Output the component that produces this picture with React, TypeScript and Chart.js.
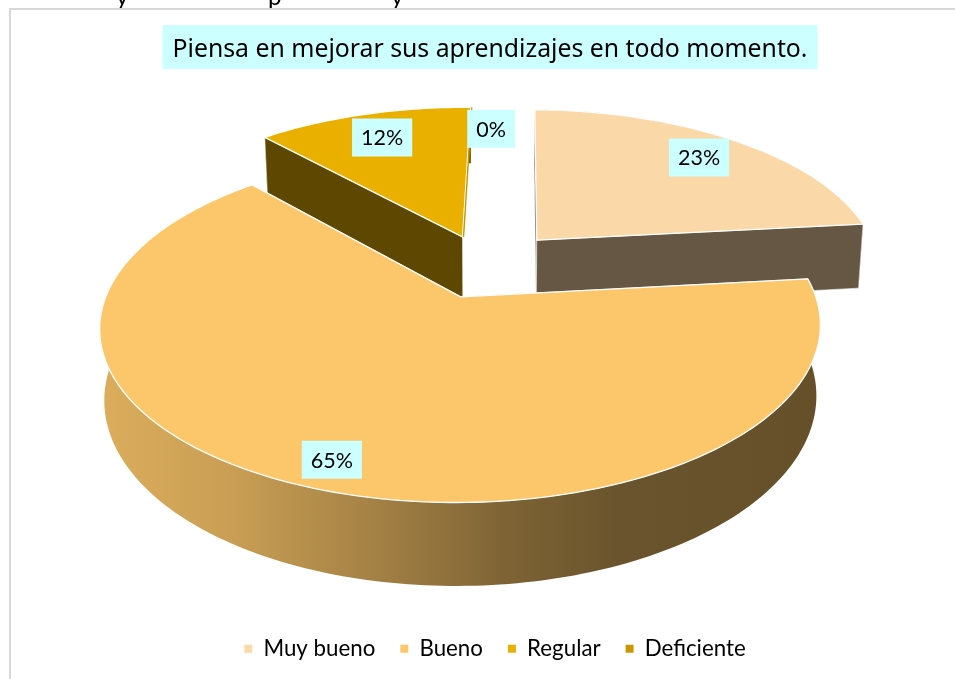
import React, { useEffect, useRef } from "react";
import { Chart, registerables } from "chart.js";

Chart.register(...registerables);

const categories = ["Muy bueno", "Bueno", "Regular", "Deficiente"];
const shares = [23, 65, 12, 0];
const sliceColors = ["#fbd8a8", "#fcc76a", "#e9b000", "#c99700"];
const explode = [45, 40, 40, 40];
const labelReach = [0.81, 0.875, 0.79, 0.8];
const labelTurn = [0, -0.6, 0, 0];
const titleText = "Piensa en mejorar sus aprendizajes en todo momento.";
const cutOffWords = [
  { text: "y", x: 116 },
  { text: "p", x: 268 },
  { text: "y", x: 391 },
];

// Perspective camera of the 3-D pie
const CAM = { X: 486, Y: 266, A: 344, B: 160, k: 0.166, D: 67, shrink: 0.988 };
const rimShade = [
  [0, 0.87],
  [0.18, 0.8],
  [0.42, 0.62],
  [0.56, 0.5],
  [0.72, 0.42],
  [1, 0.4],
];

function project(u: number, v: number) {
  const w = 1 - CAM.k * v;
  return { x: CAM.X + (CAM.A * u) / w, y: CAM.Y + (CAM.B * v) / w, w };
}
function below(p: { x: number; y: number; w: number }) {
  return { x: CAM.X + (p.x - CAM.X) * CAM.shrink, y: p.y + CAM.D / p.w };
}
function shade(hex: string, f: number) {
  const n = parseInt(hex.slice(1), 16);
  const r = Math.round(((n >> 16) & 255) * f);
  const g = Math.round(((n >> 8) & 255) * f);
  const b = Math.round((n & 255) * f);
  return `rgb(${r},${g},${b})`;
}
function trace(ctx: CanvasRenderingContext2D, pts: { x: number; y: number }[]) {
  ctx.beginPath();
  pts.forEach((p, i) => (i ? ctx.lineTo(p.x, p.y) : ctx.moveTo(p.x, p.y)));
  ctx.closePath();
}

function sliceGeometry(chart: any, i: number) {
  const el = chart.getDatasetMeta(0).data[i];
  const R = el.outerRadius;
  const mid = (el.startAngle + el.endAngle) / 2;
  const e = el.options.offset / R;
  return {
    el,
    mid,
    start: el.startAngle,
    end: el.endAngle,
    ou: e * Math.cos(mid),
    ov: e * Math.sin(mid),
    color: el.options.backgroundColor as string,
  };
}

const frameAndTitle = {
  id: "frameAndTitle",
  afterLayout(chart: any) {
    chart.titleBlock.left -= 5;
    chart.titleBlock.right -= 5;
  },
  beforeDraw(chart: any) {
    const ctx = chart.ctx;
    ctx.save();
    ctx.fillStyle = "#ffffff";
    ctx.fillRect(0, 0, chart.width, chart.height);
    ctx.fillStyle = "#000000";
    ctx.font = "24px 'Lato'";
    cutOffWords.forEach((w) => ctx.fillText(w.text, w.x, -3));
    ctx.strokeStyle = "#d9d9d9";
    ctx.lineWidth = 2;
    ctx.beginPath();
    ctx.moveTo(10, chart.height);
    ctx.lineTo(10, 9);
    ctx.lineTo(chart.width, 9);
    ctx.stroke();
    const tb = chart.titleBlock;
    const font = tb.options.font;
    ctx.font = `${font.size}px ${font.family}`;
    const tw = ctx.measureText(titleText).width;
    const cx = (tb.left + tb.right) / 2;
    ctx.fillStyle = "#ccffff";
    ctx.fillRect(cx - tw / 2 - 10, 25, tw + 20, 44);
    ctx.restore();
  },
};

const pie3d = {
  id: "pie3d",
  beforeDatasetDraw(chart: any) {
    const ctx = chart.ctx;
    const order = [2, 3, 0, 1];
    ctx.save();
    ctx.lineJoin = "round";
    for (const i of order) {
      const g = sliceGeometry(chart, i);
      if (g.end - g.start < 1e-4) {
        // a 0% slice is only a sliver along the edge of the slice before it
        const prev = sliceGeometry(chart, i - 1);
        const a = project(prev.ou, prev.ov);
        const b = project(prev.ou + Math.cos(prev.end), prev.ov + Math.sin(prev.end));
        ctx.strokeStyle = g.color;
        ctx.lineWidth = 1.4;
        ctx.beginPath();
        ctx.moveTo(a.x + 1, a.y);
        ctx.lineTo(b.x + 1, b.y);
        ctx.stroke();
        continue;
      }
      const n = Math.max(24, Math.ceil((g.end - g.start) * 50));
      const rim: { x: number; y: number; w: number }[] = [];
      for (let s = 0; s <= n; s++) {
        const t = g.start + ((g.end - g.start) * s) / n;
        rim.push(project(g.ou + Math.cos(t), g.ov + Math.sin(t)));
      }
      const apex = project(g.ou, g.ov);

      // outer wall
      const grad = ctx.createLinearGradient(100, 0, 820, 0);
      rimShade.forEach(([pos, f]) => grad.addColorStop(pos, shade(g.color, f)));
      ctx.fillStyle = grad;
      trace(ctx, [...rim, ...rim.map(below).reverse()]);
      ctx.fill();

      // cut walls (the end wall stays hidden when a 0% slice sits against it)
      const wall = shade(g.color, 0.405);
      const edges = shares[i + 1] === 0 ? [rim[0]] : [rim[0], rim[n]];
      for (const edge of edges) {
        trace(ctx, [apex, edge, below(edge), below(apex)]);
        ctx.fillStyle = wall;
        ctx.fill();
        ctx.strokeStyle = "rgba(255,255,255,0.55)";
        ctx.lineWidth = 1;
        ctx.stroke();
      }

      // top face
      trace(ctx, [apex, ...rim]);
      ctx.fillStyle = g.color;
      ctx.fill();
      ctx.strokeStyle = "#ffffff";
      ctx.lineWidth = 1.3;
      ctx.stroke();
    }
    ctx.restore();
    return false;
  },
  afterDatasetsDraw(chart: any) {
    const ctx = chart.ctx;
    ctx.save();
    ctx.font = "21.5px 'Lato'";
    ctx.textAlign = "center";
    ctx.textBaseline = "middle";
    shares.forEach((value, i) => {
      const g = sliceGeometry(chart, i);
      const f = labelReach[i];
      const m = g.mid + (labelTurn[i] * Math.PI) / 180;
      const p = project(g.ou + f * Math.cos(m), g.ov + f * Math.sin(m));
      const text = `${value}%`;
      const w = ctx.measureText(text).width + 18;
      ctx.fillStyle = "#ccffff";
      ctx.fillRect(p.x - w / 2, p.y - 19, w, 38);
      ctx.fillStyle = "#000000";
      ctx.fillText(text, p.x, p.y + 1);
    });
    ctx.restore();
  },
};

export default function App() {
  const ref = useRef<HTMLCanvasElement>(null);
  useEffect(() => {
    const chart = new Chart(ref.current!, {
      type: "pie",
      data: {
        labels: categories,
        datasets: [
          {
            data: shares,
            backgroundColor: sliceColors,
            offset: explode,
            borderWidth: 0,
          },
        ],
      },
      options: {
        responsive: false,
        animation: false,
        radius: 200,
        rotation: 1,
        layout: { padding: { left: 35, top: 25, bottom: 9 } },
        plugins: {
          tooltip: { enabled: false },
          title: {
            display: true,
            text: titleText,
            color: "#000000",
            font: { family: "'Noto Sans'", size: 24.8, weight: "normal" },
            padding: { top: 10, bottom: 4 },
          },
          legend: {
            position: "bottom",
            labels: {
              boxWidth: 8,
              boxHeight: 8,
              padding: 25,
              color: "#000000",
              font: { family: "'Lato'", size: 22.3 },
            },
          },
        },
      },
      plugins: [frameAndTitle, pie3d],
    } as any);
    return () => chart.destroy();
  }, []);
  return (
    <div style={{ position: "absolute", left: 0, top: 0, width: 955, height: 679 }}>
      <canvas ref={ref} width={955} height={679} style={{ display: "block" }} />
    </div>
  );
}
